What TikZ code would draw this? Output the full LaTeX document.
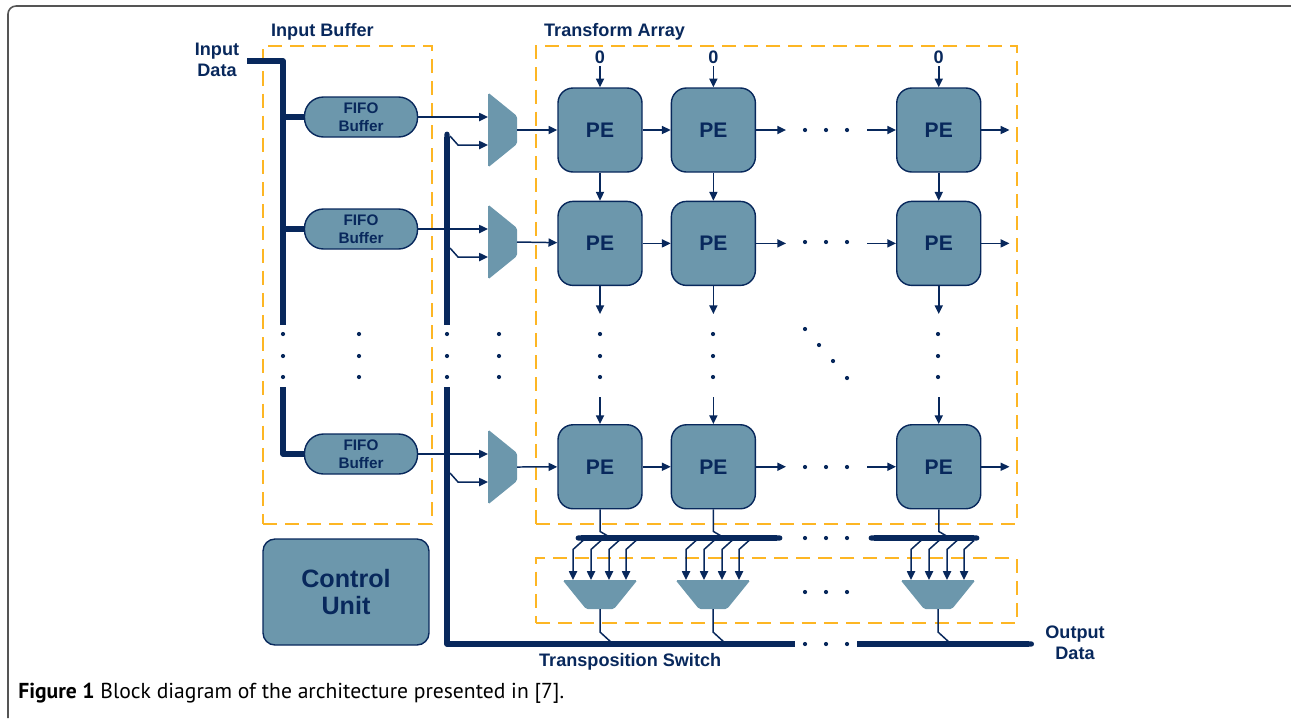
\documentclass[tikz,border=0pt]{standalone}
\usepackage{fontspec}
\setmainfont{Liberation Sans}
\newfontfamily\capfont{PT Sans}
\usetikzlibrary{shapes.geometric, arrows.meta, positioning, calc}
\definecolor{navy}{RGB}{8,40,92}
\definecolor{steel}{RGB}{108,151,172}
\definecolor{amber}{RGB}{253,182,36}
\definecolor{framegray}{RGB}{85,85,85}
\tikzstyle{pe} = [rectangle, rounded corners=0.3cm, minimum width=1.68cm, minimum height=1.68cm, draw=navy, line width=0.8pt, fill=steel, text=navy, font=\fontsize{12}{14}\selectfont\bfseries]
\tikzstyle{fifo} = [rectangle, rounded corners=0.38cm, minimum width=2.26cm, minimum height=0.8cm, draw=navy, line width=0.8pt, fill=steel, text=navy, align=center, inner sep=0pt, font=\fontsize{8.7}{10.2}\selectfont\bfseries]
\tikzstyle{ctrl} = [rectangle, rounded corners=0.24cm, minimum width=3.32cm, minimum height=2.12cm, draw=navy, line width=0.8pt, fill=steel, text=navy, align=center, font=\fontsize{14.3}{15.4}\selectfont\bfseries]
\tikzstyle{dashbox} = [draw=amber, line width=1.4pt, dash pattern=on 8pt off 4.6pt, inner sep=0pt]
\tikzstyle{lbl} = [text=navy, font=\fontsize{10.3}{12}\selectfont\bfseries, inner sep=0pt, align=center]
\tikzstyle{arrow} = [navy, line width=0.85pt, -{Triangle[length=5pt,width=4.6pt]}]
\tikzstyle{wire} = [navy, line width=0.85pt]
\tikzstyle{bus} = [navy, line width=3pt, line join=round]
\tikzset{
  inmux/.pic={
    \fill[steel, rounded corners=1pt] (-14.5,-37.5) -- (14.5,-14) -- (14.5,14) -- (-14.5,37.5) -- cycle;
    \coordinate (-in) at (-14.5,0);
    \coordinate (-out) at (14.5,0);
  },
  outmux/.pic={
    \fill[steel, rounded corners=1pt] (-37.5,-14.5) -- (37.5,-14.5) -- (14,14.5) -- (-14,14.5) -- cycle;
    \coordinate (-in) at (0,-14.5);
    \coordinate (-out) at (0,14.5);
  }
}
\begin{document}
\begin{tikzpicture}[x=0.02cm, y=-0.02cm]
\useasboundingbox (0,0) rectangle (1291,718);

% Frame
\draw[framegray, line width=0.9pt, rounded corners=0.16cm] (8,718) |- (1291,6);

% Dashed regions
\node (ibuf) [dashbox, minimum width=3.38cm, minimum height=9.56cm] at (347.5,285) {};
\node (tarr) [dashbox, minimum width=9.62cm, minimum height=9.56cm] at (776.5,285) {};
\node (tsw) [dashbox, minimum width=9.62cm, minimum height=1.3cm] at (776.5,590.5) {};
\node (ibuflbl) [lbl, anchor=base west] at ($(ibuf.north west)+(9,-8)$) {Input Buffer};
\node (tarrlbl) [lbl, anchor=base west] at ($(tarr.north west)+(9,-8)$) {Transform Array};
\node (tswlbl) [lbl, anchor=base west] at ($(tsw.south west)+(4,42)$) {Transposition Switch};

% Input side
\node (indata) [lbl] at (217,60) {Input\\Data};
\node (fifo1) [fifo] at (361,117) {FIFO\\Buffer};
\node (fifo2) [fifo] at (361,229) {FIFO\\Buffer};
\node (fifo3) [fifo] at (361,454) {FIFO\\Buffer};
\node (ctrl) [ctrl] at (346,592) {Control\\Unit};

% Input multiplexers
\pic (mux1) at (502.5,130) {inmux};
\pic (mux2) at (502.5,242) {inmux};
\pic (mux3) at (502.5,467) {inmux};

% Processing elements
\node (pe11) [pe] at (600,130) {PE};
\node (pe12) [pe, right=0.56cm of pe11] {PE};
\node (pe13) [pe, right=2.8cm of pe12] {PE};
\node (pe21) [pe, below=0.56cm of pe11] {PE};
\node (pe22) [pe, right=0.56cm of pe21] {PE};
\node (pe23) [pe, right=2.8cm of pe22] {PE};
\node (pe31) [pe, below=2.76cm of pe21] {PE};
\node (pe32) [pe, right=0.56cm of pe31] {PE};
\node (pe33) [pe, right=2.8cm of pe32] {PE};

% Zero inputs
\node (z1) [lbl, inner sep=1.5pt, above=0.42cm of pe11] {0};
\node (z2) [lbl, inner sep=1.5pt, above=0.42cm of pe12] {0};
\node (z3) [lbl, inner sep=1.5pt, above=0.42cm of pe13] {0};

% Transposition multiplexers
\pic (sw1) at (600,594.5) {outmux};
\pic (sw2) at (713,594.5) {outmux};
\pic (sw3) at (938,594.5) {outmux};

\node (outdata) [lbl] at (1075,643) {Output\\Data};
\node (caption) [anchor=base west, inner sep=0pt, text=black, font=\capfont\fontsize{12.3}{14}\selectfont] at (18,698) {\textbf{Figure 1} Block diagram of the architecture presented in [7].};

% Free ends
\coordinate [right=0.6cm of pe12] (r1a);
\coordinate [left=0.58cm of pe13] (r1b);
\coordinate [right=0.56cm of pe13] (r1c);
\coordinate [right=0.6cm of pe22] (r2a);
\coordinate [left=0.58cm of pe23] (r2b);
\coordinate [right=0.56cm of pe23] (r2c);
\coordinate [right=0.6cm of pe32] (r3a);
\coordinate [left=0.58cm of pe33] (r3b);
\coordinate [right=0.56cm of pe33] (r3c);
\coordinate [below=0.56cm of pe21] (c1a);
\coordinate [above=0.54cm of pe31] (c1b);
\coordinate [below=0.56cm of pe22] (c2a);
\coordinate [above=0.54cm of pe32] (c2b);
\coordinate [below=0.56cm of pe23] (c3a);
\coordinate [above=0.54cm of pe33] (c3b);
\coordinate (ibtop) at (283,61);
\coordinate (ibgap) at (283,325);
\coordinate (ibres) at (283,387);
\coordinate (fbtop) at (447,131.6);
\coordinate (fbgap) at (447,325);
\coordinate (fbres) at (447,387);

% Input bus
\draw[bus] ($(indata.east)+(8,1)$) -- (ibtop) -- (ibgap);
\draw[bus] (fifo1 -| ibtop) -- (fifo1);
\draw[bus] (fifo2 -| ibtop) -- (fifo2);
\draw[bus] (ibres) |- (fifo3);

% Feedback bus
\draw[bus, {Round Cap}-] (fbtop) -- (fbgap);
\draw[bus] (fbres) |- (795,644);
\draw[bus, -{Round Cap}] (857,644) -- ($(outdata.west)+(-11,1)$);

% Multiplexer inputs
\draw[arrow] (fifo1) -- (fifo1 -| mux1-in);
\draw[arrow] (fifo2) -- (fifo2 -| mux2-in);
\draw[arrow] (fifo3) -- (fifo3 -| mux3-in);
\draw[arrow] ($(mux1-in)+(-38,6)$) -- ++(8,9) -- ($(mux1-in)+(0,15)$);
\draw[arrow] ($(mux2-in)+(-38,6)$) -- ++(8,9) -- ($(mux2-in)+(0,15)$);
\draw[arrow] ($(mux3-in)+(-38,6)$) -- ++(8,9) -- ($(mux3-in)+(0,15)$);
\draw[arrow] (mux1-out) -- (pe11);
\draw[arrow] (mux2-out) -- (pe21);
\draw[arrow] (mux3-out) -- (pe31);

% Array arrows
\draw[arrow] (z1) -- (pe11);
\draw[arrow] (z2) -- (pe12);
\draw[arrow] (z3) -- (pe13);
\draw[arrow] (pe11) -- (pe12);
\draw[arrow] (pe21) -- (pe22);
\draw[arrow] (pe31) -- (pe32);
\draw[arrow] (pe12) -- (r1a);
\draw[arrow] (pe22) -- (r2a);
\draw[arrow] (pe32) -- (r3a);
\draw[arrow] (r1b) -- (pe13);
\draw[arrow] (r2b) -- (pe23);
\draw[arrow] (r3b) -- (pe33);
\draw[arrow] (pe13) -- (r1c);
\draw[arrow] (pe23) -- (r2c);
\draw[arrow] (pe33) -- (r3c);
\draw[arrow] (pe11) -- (pe21);
\draw[arrow] (pe12) -- (pe22);
\draw[arrow] (pe13) -- (pe23);
\draw[arrow] (pe21) -- (c1a);
\draw[arrow] (pe22) -- (c2a);
\draw[arrow] (pe23) -- (c3a);
\draw[arrow] (c1b) -- (pe31);
\draw[arrow] (c2b) -- (pe32);
\draw[arrow] (c3b) -- (pe33);

% Transposition switch
\draw[bus, {Round Cap}-{Round Cap}] (575.6,538) -- (782.4,538);
\draw[bus, {Round Cap}-{Round Cap}] (868.6,538) -- (979.4,538);
\draw[wire] (pe31.south) -- ++(0,22) -- ++(12,7);
\draw[wire] (pe32.south) -- ++(0,22) -- ++(12,7);
\draw[wire] (pe33.south) -- ++(0,22) -- ++(12,7);
\foreach \dx in {-27,-9,9,26} \draw[arrow] ($(sw1-in)+(\dx+10,-39.5)$) -- ++(-10,9) -- ($(sw1-in)+(\dx,0)$);
\foreach \dx in {-27,-9,9,26} \draw[arrow] ($(sw2-in)+(\dx+10,-39.5)$) -- ++(-10,9) -- ($(sw2-in)+(\dx,0)$);
\foreach \dx in {-27,-9,9,26} \draw[arrow] ($(sw3-in)+(\dx+10,-39.5)$) -- ++(-10,9) -- ($(sw3-in)+(\dx,0)$);
\draw[wire] (sw1-out) -- ++(0,23) -- ++(12,11);
\draw[wire] (sw2-out) -- ++(0,23) -- ++(12,11);
\draw[wire] (sw3-out) -- ++(0,23) -- ++(12,11);

% Dots
\foreach \x in {283,359,447,499,600,713,938}
  \foreach \y in {334,356,377}
    \fill[navy] (\x,\y) circle (1.2pt);
\foreach \x/\y in {805/329,819/345,833/361,847/378}
  \fill[navy] (\x,\y) circle (1.2pt);
\foreach \y in {130,242,467,538,592,644}
  \foreach \x in {805,826,847}
    \fill[navy] (\x,\y) circle (1.2pt);

\end{tikzpicture}
\end{document}
